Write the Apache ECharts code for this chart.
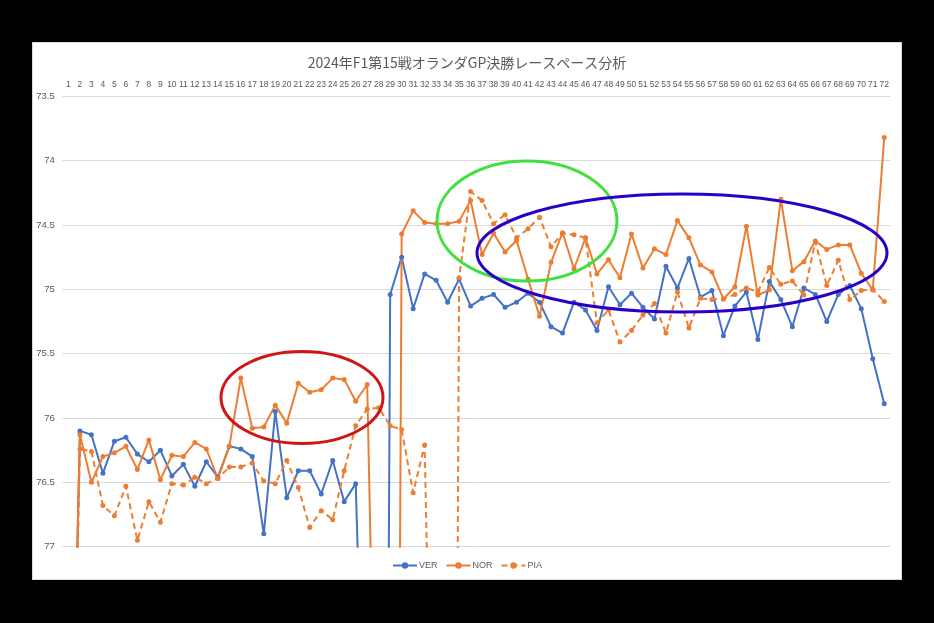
<!DOCTYPE html>
<html><head><meta charset="utf-8">
<script src="https://cdn.jsdelivr.net/npm/echarts@6/dist/echarts.min.js"></script>
<style>
html,body{margin:0;padding:0;background:#000;width:934px;height:623px;overflow:hidden;}
#chart{position:absolute;left:32px;top:42px;width:870px;height:538px;background:#fff;}
</style></head>
<body><div id="chart"></div>
<script>
const titleText = '2024年F1第15戦オランダGP決勝レースペース分析';
const laps = ['1','2','3','4','5','6','7','8','9','10','11','12','13','14','15','16','17','18','19','20','21','22','23','24','25','26','27','28','29','30','31','32','33','34','35','36','37','38','39','40','41','42','43','44','45','46','47','48','49','50','51','52','53','54','55','56','57','58','59','60','61','62','63','64','65','66','67','68','69','70','71','72'];
const yTicks = [73.5, 74, 74.5, 75, 75.5, 76, 76.5, 77];
const VER = [80.0,76.10,76.13,76.43,76.18,76.15,76.28,76.34,76.25,76.45,76.36,76.53,76.34,76.46,76.22,76.24,76.30,76.90,75.95,76.62,76.41,76.41,76.59,76.33,76.65,76.51,79.5,92.0,75.04,74.75,75.15,74.88,74.93,75.10,74.92,75.13,75.07,75.04,75.14,75.10,75.03,75.10,75.29,75.34,75.10,75.16,75.32,74.98,75.12,75.03,75.14,75.23,74.82,74.99,74.76,75.06,75.01,75.36,75.13,75.02,75.39,74.94,75.08,75.29,74.99,75.04,75.25,75.04,74.97,75.15,75.54,75.89];
const NOR = [80.0,76.13,76.50,76.30,76.27,76.22,76.40,76.17,76.48,76.29,76.30,76.19,76.24,76.47,76.22,75.69,76.08,76.07,75.90,76.04,75.73,75.80,75.78,75.69,75.70,75.87,75.74,80.0,92.0,74.57,74.39,74.48,74.49,74.49,74.47,74.31,74.73,74.565,74.71,74.62,74.92,75.21,74.79,74.56,74.84,74.60,74.88,74.77,74.91,74.57,74.835,74.685,74.73,74.465,74.60,74.81,74.865,75.075,74.98,74.51,75.045,75.005,74.30,74.855,74.785,74.625,74.69,74.655,74.655,74.875,75.005,73.82];
const PIA = [80.5,76.24,76.26,76.68,76.76,76.53,76.95,76.65,76.81,76.51,76.52,76.46,76.51,76.47,76.38,76.38,76.35,76.49,76.51,76.33,76.54,76.85,76.72,76.79,76.41,76.06,75.93,75.92,76.06,76.09,76.58,76.21,80.5,92.0,74.91,74.24,74.31,74.49,74.42,74.60,74.53,74.44,74.67,74.565,74.575,74.60,75.26,75.16,75.41,75.32,75.20,75.11,75.34,75.02,75.30,75.07,75.08,75.075,75.04,74.99,75.02,74.83,74.96,74.935,75.045,74.63,74.97,74.775,75.08,75.01,75.00,75.095];

const chart = echarts.init(document.getElementById('chart'));
const gray = '#595959';
const blue = '#4472C4', orange = '#ED7D31';
function ser(name, data, color, dashed) {
  return {
    name, type: 'line', data, clip: true,
    symbol: 'circle', symbolSize: 5,
    itemStyle: { color },
    lineStyle: { color, width: 2, type: dashed ? [6, 4] : 'solid' },
    emphasis: { disabled: true },
    animation: false
  };
}
chart.setOption({
  backgroundColor: '#fff',
  animation: false,
  title: {
    text: titleText, left: 'center', top: 9,
    textStyle: { fontSize: 14, fontWeight: 'normal', color: gray, fontFamily: 'Noto Sans CJK JP' }
  },
  legend: {
    bottom: 5, left: 'center', itemWidth: 24, itemHeight: 8, itemGap: 8,
    data: ['VER', 'NOR', 'PIA'],
    textStyle: { fontSize: 9, color: gray, fontFamily: 'Liberation Sans', padding: [0, 0, 0, -3] }
  },
  grid: { left: 30.7, right: 12, top: 54.3, bottom: 33.3, containLabel: false },
  xAxis: {
    type: 'category', position: 'top', data: laps, boundaryGap: true,
    axisLine: { show: false }, axisTick: { show: false },
    axisLabel: { interval: 0, fontSize: 8.5, color: gray, margin: 7, fontFamily: 'Liberation Sans' },
    splitLine: { show: false }
  },
  yAxis: {
    type: 'value', inverse: true, min: 73.5, max: 77, interval: 0.5,
    axisLine: { show: false }, axisTick: { show: false },
    axisLabel: { fontSize: 9.5, color: gray, margin: 8, fontFamily: 'Liberation Sans',
      formatter: v => String(yTicks.find(t => Math.abs(t - v) < 1e-6) ?? v) },
    splitLine: { lineStyle: { color: '#d9d9d9', width: 1 } }
  },
  series: [ser('VER', VER, blue, false), ser('NOR', NOR, orange, false), ser('PIA', PIA, orange, true)],
  graphic: [
    { type: 'rect', shape: { x: 0.5, y: 0.5, width: 869, height: 537 }, style: { fill: null, stroke: '#d9d9d9', lineWidth: 1 }, silent: true, z: 100 },
    { type: 'ellipse', shape: { cx: 270, cy: 355.5, rx: 81, ry: 46 }, style: { fill: null, stroke: '#D01515', lineWidth: 3 }, silent: true, z: 100 },
    { type: 'ellipse', shape: { cx: 495, cy: 179, rx: 90, ry: 60 }, style: { fill: null, stroke: '#3FE03F', lineWidth: 3 }, silent: true, z: 100 },
    { type: 'ellipse', shape: { cx: 650, cy: 211, rx: 205, ry: 59 }, style: { fill: null, stroke: '#2A00C8', lineWidth: 3 }, silent: true, z: 100 }
  ]
});
</script></body></html>
